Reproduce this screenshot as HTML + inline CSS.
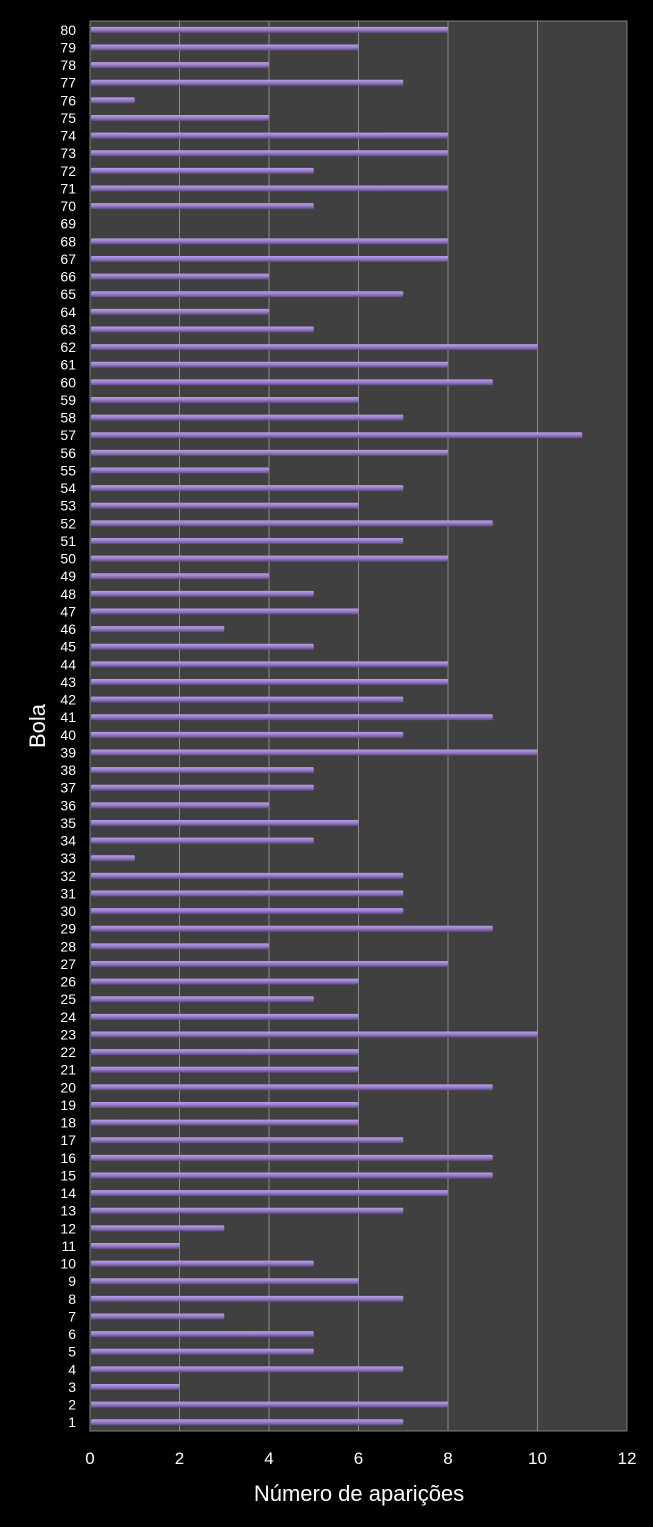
<!DOCTYPE html>
<html><head><meta charset="utf-8"><style>
html,body{margin:0;padding:0;background:#000;}
svg{display:block;font-family:"Liberation Sans",sans-serif;}
</style></head><body>
<svg id="chart" width="653" height="1527" xmlns="http://www.w3.org/2000/svg">
<defs>
<linearGradient id="bg" x1="0" y1="0" x2="0" y2="1">
<stop offset="0" stop-color="#b9a0e6"/><stop offset="0.5" stop-color="#9a7ccc"/><stop offset="1" stop-color="#5e4a80"/>
</linearGradient>
</defs>
<rect x="0" y="0" width="653" height="1527" fill="#000"/>
<rect x="90" y="21" width="537" height="1410" fill="#404040" stroke="#808080" stroke-width="1"/>
<g id="grid"></g><g id="bars"></g><g id="ylabels"></g><g id="xlabels"></g>
<text x="359" y="1501" fill="#fff" font-size="22" text-anchor="middle">Número de aparições</text>
<text x="45" y="726" fill="#fff" font-size="22" text-anchor="middle" transform="rotate(-90 45 726)">Bola</text>
</svg>
<script>
const categories = Array.from({length:80},(_,i)=>i+1);
const values = [7,8,2,7,5,5,3,7,6,5,2,3,7,8,9,9,7,6,6,9,6,6,10,6,5,6,8,4,9,7,7,7,1,5,6,4,5,5,10,7,9,7,8,8,5,3,6,5,4,8,7,9,6,7,4,8,11,7,6,9,8,10,5,4,7,4,8,8,0,5,8,5,8,8,4,1,7,4,6,8];
const xTicks = [0,2,4,6,8,10,12];
const NS="http://www.w3.org/2000/svg";
const L=90,R=627,T=21,B=1431,xMax=12;
const xs=v=>L+(v/xMax)*(R-L);
const step=(B-T)/categories.length;
const ys=i=>B-step*(i+0.5);
function mk(tag,attrs,parent){const e=document.createElementNS(NS,tag);for(const k in attrs)e.setAttribute(k,attrs[k]);document.getElementById(parent).appendChild(e);return e;}
xTicks.forEach(t=>{
 if(t>0&&t<xMax){const g=mk('line',{x1:xs(t),x2:xs(t),y1:T,y2:B,stroke:'#8a8a8a','stroke-width':1},'grid');
 
 }
 const tx=mk('text',{x:xs(t),y:1464,fill:'#fff','font-size':17,'text-anchor':'middle'},'xlabels');
 tx.textContent=t;
 
 
});
categories.forEach((c,i)=>{
 const v=values[i],y=ys(i);
 if(v>0){const r=mk('rect',{x:L+1,y:y-3,width:xs(v)-L-1,height:6,fill:'url(#bg)',rx:1},'bars');
 
 }
 const tx=mk('text',{x:76,y:y+5,fill:'#fff','font-size':14,'text-anchor':'end'},'ylabels');
 tx.textContent=c;
 
 
});
</script>
</body></html>
